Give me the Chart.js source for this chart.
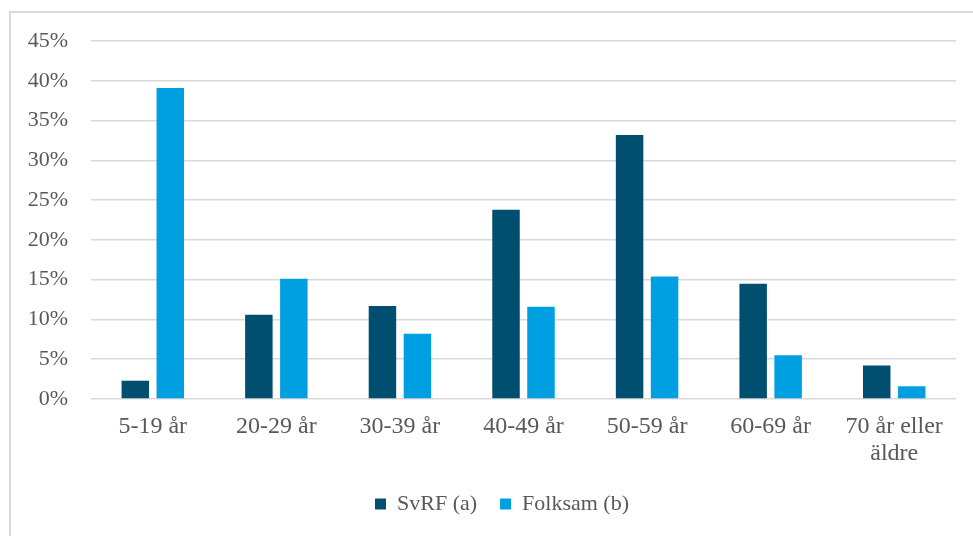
<!DOCTYPE html>
<html>
<head>
<meta charset="utf-8">
<script src="https://cdn.jsdelivr.net/npm/chart.js@4/dist/chart.umd.min.js"></script>
<style>
  html, body { margin: 0; padding: 0; background: #ffffff; }
  #wrap { position: relative; width: 973px; height: 536px; overflow: hidden; }
  #frame { position: absolute; left: 9px; top: 11px; width: 1100px; height: 700px;
           border-left: 2px solid #d9d9d9; border-top: 2px solid #d9d9d9; box-sizing: border-box; }
  #c { position: absolute; left: 0; top: 0; }
</style>
</head>
<body>
<div id="wrap">
  <div id="frame"></div>
  <canvas id="c" width="973" height="536"></canvas>
</div>
<script>
// Age groups and share of members (percent) in each group
const ageGroups = ['5-19 år', '20-29 år', '30-39 år', '40-49 år', '50-59 år', '60-69 år', ['70 år eller', 'äldre']];
const svrfShare = [2.3, 10.6, 11.7, 23.8, 33.2, 14.5, 4.2];
const folksamShare = [39.1, 15.1, 8.2, 11.6, 15.4, 5.5, 1.6];
const seriesNames = ['SvRF (a)', 'Folksam (b)'];
const yTicks = [0, 5, 10, 15, 20, 25, 30, 35, 40, 45];

const textColor = '#595959';
const gridColor = '#d9d9d9';
const serif = "'Liberation Serif', 'Times New Roman', serif";

// Nudge the bottom legend so it sits centred under the plot area
const legendShift = {
  id: 'legendShift',
  afterLayout(chart) {
    const lg = chart.legend;
    if (lg) { lg.left += 14; lg.right += 14; }
  }
};

new Chart(document.getElementById('c'), {
  type: 'bar',
  data: {
    labels: ageGroups,
    datasets: [
      { label: seriesNames[0], data: svrfShare, backgroundColor: '#004F70' },
      { label: seriesNames[1], data: folksamShare, backgroundColor: '#009FE1' }
    ]
  },
  plugins: [legendShift],
  options: {
    responsive: false,
    animation: false,
    events: [],
    datasets: { bar: { categoryPercentage: 0.566, barPercentage: 0.786 } },
    layout: { padding: { left: 20, right: 17, top: 41, bottom: 11 } },
    plugins: {
      tooltip: { enabled: false },
      legend: {
        position: 'bottom',
        labels: {
          color: textColor,
          font: { family: serif, size: 22 },
          boxWidth: 11,
          boxHeight: 11,
          padding: 23
        }
      }
    },
    scales: {
      x: {
        grid: { display: false },
        border: { display: false },
        ticks: {
          color: textColor,
          font: { family: serif, size: 24, lineHeight: 1.12 },
          padding: 6,
          maxRotation: 0,
          autoSkip: false
        },
        afterFit: (s) => { s.height = 71; }
      },
      y: {
        min: 0,
        max: 45,
        afterBuildTicks: (s) => { s.ticks = yTicks.map(v => ({ value: v })); },
        grid: { color: gridColor, lineWidth: 1.5, drawTicks: false },
        border: { display: false },
        ticks: {
          color: textColor,
          font: { family: serif, size: 22 },
          padding: 23,
          callback: (v) => v + '%'
        },
        afterFit: (s) => { s.width = 71; }
      }
    }
  }
});
</script>
</body>
</html>
